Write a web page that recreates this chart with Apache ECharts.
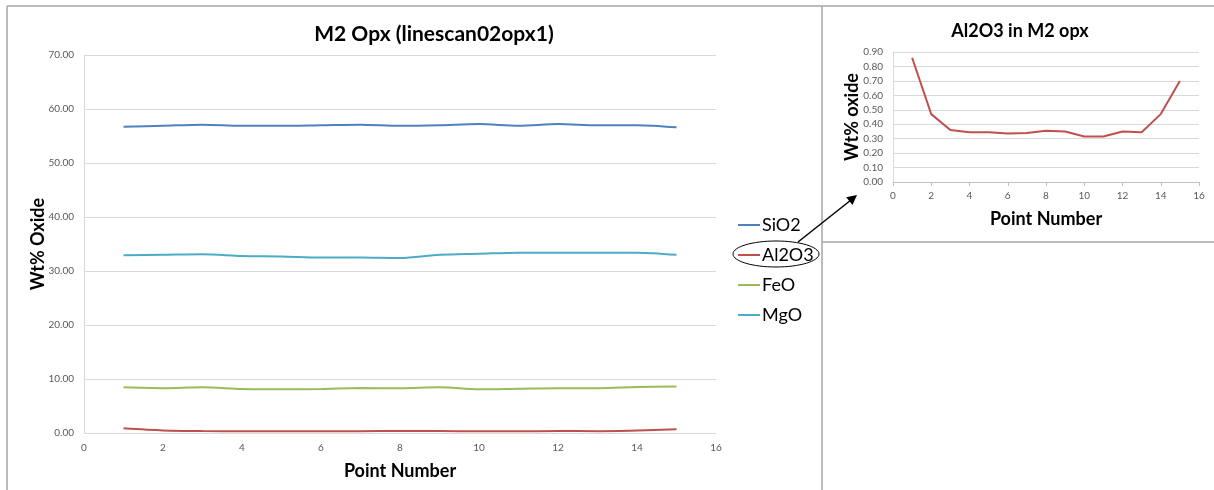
<!DOCTYPE html>
<html>
<head>
<meta charset="utf-8">
<style>
html,body{margin:0;padding:0;background:#fff;}
#c{width:1214px;height:490px;}
</style>
<script src="https://cdn.jsdelivr.net/npm/echarts@6/dist/echarts.min.js"></script>
</head>
<body>
<div id="c"></div>
<script>
const points = [1,2,3,4,5,6,7,8,9,10,11,12,13,14,15];
const sio2 = [56.7,56.9,57.1,56.9,56.9,57.0,57.1,56.9,57.0,57.2,56.9,57.2,57.0,57.0,56.6];
const al2o3 = [0.86,0.47,0.36,0.345,0.345,0.335,0.34,0.355,0.35,0.315,0.315,0.35,0.345,0.47,0.70];
const feo = [8.45,8.3,8.45,8.15,8.1,8.15,8.33,8.28,8.45,8.1,8.2,8.3,8.3,8.5,8.6];
const mgo = [32.9,33.0,33.1,32.8,32.7,32.5,32.5,32.4,33.0,33.2,33.4,33.4,33.4,33.4,33.0];
const seriesNames = ['SiO2','Al2O3','FeO','MgO'];
const colors = ['#4F81BD','#C0504D','#9BBB59','#4BACC6'];

const pair = arr => arr.map((v,i)=>[points[i], v]);
const FONT = 'Lato, "Open Sans", sans-serif';

const chart = echarts.init(document.getElementById('c'), null, {renderer:'canvas'});
const mainSeriesData = [sio2, al2o3, feo, mgo];

const option = {
  animation:false,
  backgroundColor:'#fff',
  textStyle:{fontFamily:FONT},
  title:[
    {text:'M2 Opx (linescan02opx1)', left:429, top:19, textAlign:'center',
     textStyle:{fontSize:21, fontWeight:'bold', color:'#000', fontFamily:FONT}},
    {text:'Al2O3 in M2 opx', left:1015, top:17, textAlign:'center',
     textStyle:{fontSize:18, fontWeight:'bold', color:'#000', fontFamily:FONT}}
  ],
  legend:{
    data:seriesNames, orient:'vertical', left:733, top:211,
    icon:'rect', itemWidth:22, itemHeight:2, itemGap:12,
    textStyle:{fontSize:18, color:'#000', fontFamily:FONT, padding:[0,0,0,-3]}
  },
  grid:[
    {left:84, top:55, width:632, height:378},
    {left:893, top:52, width:306, height:130}
  ],
  xAxis:[
    {type:'value', gridIndex:0, min:0, max:16, interval:2,
     name:'Point Number', nameLocation:'middle', nameGap:29,
     nameTextStyle:{fontSize:18, fontWeight:'bold', color:'#000', fontFamily:FONT},
     axisLine:{show:false}, axisTick:{show:false}, splitLine:{show:false},
     axisLabel:{fontSize:10, color:'#595959', margin:10, fontFamily:FONT}},
    {type:'value', gridIndex:1, min:0, max:16, interval:2,
     name:'Point Number', nameLocation:'middle', nameGap:28,
     nameTextStyle:{fontSize:18, fontWeight:'bold', color:'#000', fontFamily:FONT},
     axisLine:{show:true, onZero:false, lineStyle:{color:'#bfbfbf'}},
     axisTick:{show:true, length:4, lineStyle:{color:'#bfbfbf'}}, splitLine:{show:false},
     axisLabel:{fontSize:10, color:'#595959', margin:9, fontFamily:FONT}}
  ],
  yAxis:[
    {type:'value', gridIndex:0, min:0, max:70, interval:10,
     name:'Wt% Oxide', nameLocation:'middle', nameGap:37, nameRotate:90, nameMoveOverlap:false,
     nameTextStyle:{fontSize:18, fontWeight:'bold', color:'#000', fontFamily:FONT},
     axisLine:{show:true, lineStyle:{color:'#d9d9d9'}}, axisTick:{show:false},
     splitLine:{show:true, lineStyle:{color:'#d9d9d9', width:1}},
     axisLabel:{fontSize:10, color:'#595959', margin:10, fontFamily:FONT, formatter:v=>v.toFixed(2)}},
    {type:'value', gridIndex:1, min:0, max:0.9, interval:0.1,
     name:'Wt% oxide', nameLocation:'middle', nameGap:32, nameRotate:90, nameMoveOverlap:false,
     nameTextStyle:{fontSize:18, fontWeight:'bold', color:'#000', fontFamily:FONT},
     axisLine:{show:true, lineStyle:{color:'#d9d9d9'}}, axisTick:{show:false},
     splitLine:{show:true, lineStyle:{color:'#d9d9d9', width:1}},
     axisLabel:{fontSize:10, color:'#595959', margin:10, fontFamily:FONT, formatter:v=>v.toFixed(2)}}
  ],
  series: [
    ...seriesNames.map((n,i)=>({
      name:n, type:'line', xAxisIndex:0, yAxisIndex:0, data:pair(mainSeriesData[i]),
      showSymbol:false, symbol:'none', smooth:0.3,
      lineStyle:{color:colors[i], width:2}, itemStyle:{color:colors[i]}, z:3
    })),
    {name:'Al2O3 inset', type:'line', xAxisIndex:1, yAxisIndex:1, data:pair(al2o3),
     showSymbol:false, symbol:'none', lineStyle:{color:colors[1], width:2}, itemStyle:{color:colors[1]}}
  ],
  graphic:[
    {type:'line', shape:{x1:7, y1:6, x2:1214, y2:6}, style:{stroke:'#a6a6a6', lineWidth:1.5}},
    {type:'line', shape:{x1:7, y1:6, x2:7, y2:490}, style:{stroke:'#a6a6a6', lineWidth:1.5}},
    {type:'line', shape:{x1:822, y1:6, x2:822, y2:490}, style:{stroke:'#a6a6a6', lineWidth:1.5}},
    {type:'line', shape:{x1:822, y1:242, x2:1214, y2:242}, style:{stroke:'#a6a6a6', lineWidth:1.5}},
    {type:'ellipse', shape:{cx:776, cy:254, rx:43, ry:13}, style:{fill:'none', stroke:'#000', lineWidth:1}},
    {type:'line', shape:{x1:798, y1:242, x2:851, y2:200}, style:{stroke:'#000', lineWidth:1.5}},
    {type:'polygon', shape:{points:[[857,195],[852.5,205.0],[846.2,197.2]]}, style:{fill:'#000'}}
  ]
};
chart.setOption(option);
</script>
</body>
</html>
